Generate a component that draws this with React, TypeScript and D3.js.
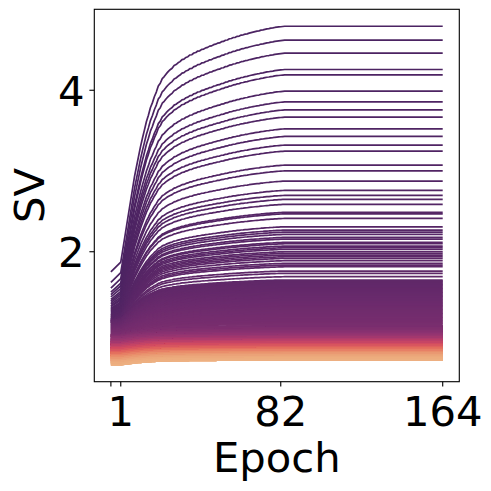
import React from 'react';
import * as d3 from 'd3';

// x positions: initialization point, then epochs 1..164
const EPOCHS: number[] = [-4, ...d3.range(1, 165)];
const X_TICKS = [-4, 1, 82, 164];
const X_TICK_LABELS = ['', '1', '82', '164'];
const Y_TICKS = [2, 4];
const Y_TICK_LABELS = ['2', '4'];

// growth profile (fraction of the way from initial to final SV);
// index 0 = initialization, index k = epoch k; flat after epoch 84
const PROFILE = [
  0, 0.04, 0.09, 0.14, 0.19, 0.24, 0.29, 0.34, 0.39, 0.43, 0.47,
  0.51, 0.545, 0.578, 0.612, 0.638, 0.668, 0.688, 0.713, 0.732, 0.757,
  0.768, 0.787, 0.795, 0.806, 0.815, 0.823, 0.829, 0.84, 0.844, 0.851,
  0.856, 0.864, 0.866, 0.873, 0.876, 0.883, 0.884, 0.891, 0.893, 0.899,
  0.9, 0.906, 0.907, 0.912, 0.914, 0.919, 0.92, 0.925, 0.927, 0.931,
  0.932, 0.937, 0.938, 0.943, 0.944, 0.949, 0.95, 0.954, 0.955, 0.959,
  0.96, 0.964, 0.965, 0.968, 0.969, 0.972, 0.974, 0.976, 0.978, 0.98,
  0.981, 0.984, 0.985, 0.987, 0.989, 0.99, 0.992, 0.993, 0.995, 0.996,
  0.997, 0.998, 0.999, 1.0,
];

// largest singular values (separate lines at the top)
const TOP_FINAL = [
  4.793, 4.62, 4.459, 4.257, 4.191, 3.989, 3.856, 3.757, 3.667, 3.522,
  3.428, 3.321, 3.246, 3.073, 3.002, 2.875, 2.76, 2.698, 2.649, 2.587,
  2.488, 2.47, 2.413, 2.309, 2.268, 2.243, 2.215, 2.178, 2.157, 2.116,
  2.099, 2.07, 2.05, 2.03, 2.0, 1.98, 1.959, 1.938, 1.918, 1.889,
  1.856, 1.835, 1.814, 1.761, 1.733, 1.691, 1.65,
];
const TOP_INIT = [
  1.75, 1.62, 1.55, 1.5, 1.47, 1.44, 1.41, 1.39, 1.37, 1.35,
  1.33, 1.32, 1.3, 1.29, 1.28, 1.27, 1.26, 1.25, 1.24, 1.23,
  1.22, 1.22, 1.21, 1.2, 1.2, 1.19, 1.19, 1.18, 1.18, 1.17,
  1.17, 1.17, 1.16, 1.16, 1.16, 1.15, 1.15, 1.15, 1.14, 1.14,
  1.14, 1.13, 1.13, 1.13, 1.12, 1.12, 1.12,
];

// dense bulk of the spectrum: final SV, initial SV, number of lines
const BULK_FINAL = [
  1.64, 1.63, 1.62, 1.61, 1.6, 1.59, 1.58, 1.57, 1.56, 1.55,
  1.54, 1.53, 1.52, 1.51, 1.5, 1.49, 1.48, 1.47, 1.46, 1.45,
  1.44, 1.43, 1.42, 1.41, 1.4, 1.39, 1.38, 1.37, 1.36, 1.35,
  1.34, 1.33, 1.32, 1.31, 1.3, 1.29, 1.28, 1.27, 1.26, 1.25,
  1.24, 1.23, 1.22, 1.21, 1.2, 1.19, 1.18, 1.17, 1.16, 1.15,
  1.14, 1.13, 1.12, 1.11, 1.1,
  1.08, 1.06, 1.04, 1.02, 1.0, 0.98,
  0.96, 0.94, 0.92, 0.9, 0.88, 0.86, 0.84, 0.82, 0.8, 0.78,
  0.76, 0.74, 0.72, 0.7, 0.68, 0.66,
];
const BULK_INIT = [
  1.15, 1.147, 1.144, 1.141, 1.138, 1.135, 1.132, 1.129, 1.126, 1.123,
  1.12, 1.117, 1.114, 1.111, 1.108, 1.105, 1.102, 1.099, 1.096, 1.093,
  1.09, 1.087, 1.084, 1.081, 1.078, 1.075, 1.072, 1.069, 1.066, 1.063,
  1.06, 1.057, 1.054, 1.051, 1.048, 1.045, 1.042, 1.039, 1.036, 1.033,
  1.03, 1.027, 1.024, 1.021, 1.018, 1.015, 1.012, 1.009, 1.006, 1.003,
  1.0, 0.997, 0.994, 0.991, 0.988,
  0.98, 0.97, 0.96, 0.95, 0.94, 0.92,
  0.9, 0.88, 0.86, 0.84, 0.82, 0.8, 0.78, 0.76, 0.74, 0.72,
  0.7, 0.68, 0.66, 0.64, 0.62, 0.6,
];
const BULK_COUNT = [
  1, 1, 1, 1, 1, 1, 1, 1, 1, 1,
  1, 1, 1, 1, 1, 1, 1, 1, 1, 1,
  1, 1, 1, 1, 1, 1, 1, 1, 1, 1,
  1, 1, 1, 1, 1, 1, 1, 1, 1, 1,
  1, 1, 1, 1, 1, 1, 1, 1, 1, 1,
  1, 1, 1, 1, 1,
  5, 6, 8, 10, 12, 14,
  18, 22, 26, 28, 28, 28, 28, 30, 32, 32,
  28, 24, 20, 14, 10, 6,
];

const FLARE = ['#edb081', '#e98d6b', '#e3685c', '#d14a61', '#b13c6c', '#8f3371', '#6c2b6d', '#4b2362'];

const W = 491;
const H = 491;
const PLOT = { left: 94.3, right: 459.3, top: 9.3, bottom: 381.7 };
const FONT = '"DejaVu Sans", sans-serif';
const FS = 41.7;

export default function App() {
  const lines: { init: number; final: number }[] = [];
  TOP_FINAL.forEach((f, i) => lines.push({ init: TOP_INIT[i], final: f }));
  BULK_FINAL.forEach((f, i) => {
    for (let k = 0; k < BULK_COUNT[i]; k++) lines.push({ init: BULK_INIT[i], final: f });
  });
  const N = lines.length;

  const series = lines.map((l) =>
    EPOCHS.map((e, j) => {
      const p = j < PROFILE.length ? PROFILE[j] : PROFILE[PROFILE.length - 1];
      return { x: e, y: l.init + (l.final - l.init) * p };
    })
  );

  const xMin = d3.min(EPOCHS)!;
  const xMax = d3.max(EPOCHS)!;
  const xPad = (xMax - xMin) * 0.05;
  const allY = series.flat().map((d) => d.y);
  const yMin = d3.min(allY)!;
  const yMax = d3.max(allY)!;
  const yPad = (yMax - yMin) * 0.05;

  const x = d3.scaleLinear().domain([xMin - xPad, xMax + xPad]).range([PLOT.left, PLOT.right]);
  const y = d3.scaleLinear().domain([yMin - yPad, yMax + yPad]).range([PLOT.bottom, PLOT.top]);

  const color = d3
    .scaleLinear<string>()
    .domain(FLARE.map((_, i) => i / (FLARE.length - 1)))
    .range(FLARE)
    .interpolate(d3.interpolateRgb);

  const line = d3
    .line<{ x: number; y: number }>()
    .x((d) => x(d.x))
    .y((d) => y(d.y));

  return (
    <svg width={W} height={H} style={{ position: 'absolute', left: 0, top: 0, background: '#fff' }}>
      <rect x={0} y={0} width={W} height={H} fill="#fff" />
      <g>
        {series.map((s, i) => (
          <path
            key={i}
            d={line(s) || ''}
            fill="none"
            stroke={color(1 - i / (N - 1))}
            strokeWidth={1.7}
            strokeLinejoin="round"
            strokeLinecap="butt"
          />
        ))}
      </g>
      <rect
        x={PLOT.left}
        y={PLOT.top}
        width={PLOT.right - PLOT.left}
        height={PLOT.bottom - PLOT.top}
        fill="none"
        stroke="#000"
        strokeWidth={1.11}
      />
      {X_TICKS.map((t, i) => (
        <g key={'xt' + i}>
          <line x1={x(t)} x2={x(t)} y1={PLOT.bottom} y2={PLOT.bottom + 4.9} stroke="#000" strokeWidth={1.11} />
          <text x={x(t)} y={425.5} textAnchor="middle" fontFamily={FONT} fontSize={FS} fill="#000">
            {X_TICK_LABELS[i]}
          </text>
        </g>
      ))}
      {Y_TICKS.map((t, i) => (
        <g key={'yt' + i}>
          <line x1={PLOT.left - 4.9} x2={PLOT.left} y1={y(t)} y2={y(t)} stroke="#000" strokeWidth={1.11} />
          <text x={84.5} y={y(t) + 15.5} textAnchor="end" fontFamily={FONT} fontSize={FS} fill="#000">
            {Y_TICK_LABELS[i]}
          </text>
        </g>
      ))}
      <text
        x={(PLOT.left + PLOT.right) / 2}
        y={472}
        textAnchor="middle"
        fontFamily={FONT}
        fontSize={FS}
        fill="#000"
      >
        Epoch
      </text>
      <text
        transform={`translate(43.5, ${(PLOT.top + PLOT.bottom) / 2}) rotate(-90)`}
        textAnchor="middle"
        fontFamily={FONT}
        fontSize={FS}
        fill="#000"
      >
        SV
      </text>
    </svg>
  );
}
